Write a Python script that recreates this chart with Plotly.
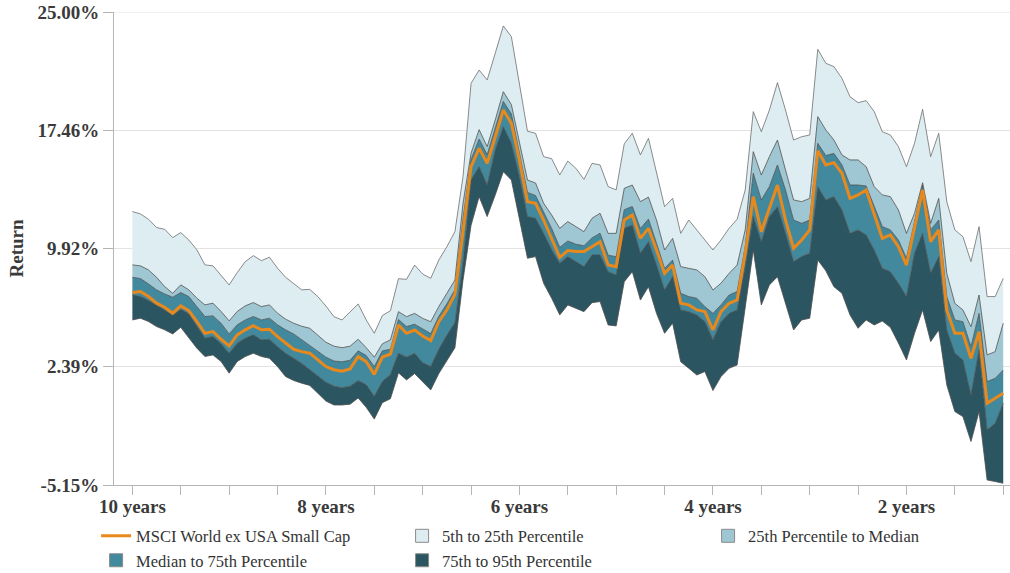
import plotly.graph_objects as go

# Rolling period (years remaining), monthly from 10 years down to 1 year
periods_years = [round(10 - m / 12, 4) for m in range(109)]

pct_5th = [12.28, 12.13, 11.79, 11.26, 11.15, 10.62, 10.94, 10.47, 9.84, 8.88, 8.82, 8.18, 7.60, 8.39, 9.09, 9.47, 9.15, 9.37, 8.67, 8.09, 7.67,
           7.29, 7.32, 6.86, 6.26, 5.58, 5.37, 5.90, 6.39, 5.37, 4.52, 5.65, 5.96, 8.00, 7.96, 8.87, 8.30, 8.02, 9.19, 10.04, 11.00, 14.50,
           20.45, 21.30, 20.67, 22.37, 24.11, 23.43, 20.50, 17.40, 17.27, 15.78, 15.65, 14.61, 15.50, 15.04, 14.33, 15.35, 15.25, 13.87, 13.66, 16.60, 17.27, 15.89, 16.95,
           14.72, 12.59, 13.12, 10.89, 11.74, 11.11, 10.47, 9.83, 10.47, 11.21, 11.79, 13.65, 18.65, 17.37, 18.75, 20.50, 18.75, 16.84, 17.05, 17.16, 22.62, 21.73,
           21.52, 20.77, 19.60, 19.22, 19.35, 18.65, 17.37, 17.16, 16.42, 15.14, 16.63, 18.80, 15.78, 17.27, 12.91, 11.11, 10.68, 9.09, 11.32, 6.86, 6.86, 8.02]

pct_25th = [8.88, 8.82, 8.56, 8.09, 7.50, 7.07, 7.61, 7.29, 6.76, 6.33, 6.44, 5.91, 5.31, 5.91, 6.27, 6.48, 6.22, 6.33, 5.80, 5.42, 5.16,
            4.97, 4.84, 4.41, 3.95, 3.70, 3.60, 3.70, 4.14, 3.60, 3.00, 3.85, 4.10, 5.90, 5.58, 5.79, 5.47, 5.26, 6.22, 7.07, 7.92, 12.80,
            16.00, 17.50, 16.42, 18.12, 19.92, 19.10, 16.70, 14.29, 14.10, 12.81, 12.06, 11.21, 11.64, 11.32, 11.00, 11.85, 12.17, 10.89, 10.89, 13.76, 13.97, 12.91, 13.20,
            11.74, 9.83, 10.57, 8.77, 8.66, 8.56, 8.13, 7.28, 7.71, 8.34, 8.87, 11.11, 16.10, 14.61, 15.78, 16.84, 14.93, 13.02, 12.91, 13.12, 18.33, 17.48,
            16.84, 15.89, 15.57, 15.57, 15.14, 13.87, 13.34, 13.23, 12.38, 10.89, 12.17, 14.12, 11.53, 13.12, 8.34, 6.43, 6.01, 4.94, 6.96, 3.14, 3.35, 5.16]

pct_median = [8.09, 8.01, 7.67, 7.29, 7.03, 6.82, 7.12, 6.86, 6.22, 5.59, 5.63, 5.16, 4.48, 5.06, 5.37, 5.59, 5.37, 5.48, 5.06, 4.74, 4.48,
              4.10, 3.75, 3.35, 3.00, 2.75, 2.70, 2.80, 3.40, 3.10, 2.40, 3.40, 3.50, 5.40, 4.95, 5.10, 4.80, 4.50, 5.60, 6.40, 7.30, 11.80,
              15.60, 16.90, 15.90, 17.60, 19.30, 18.50, 16.10, 13.50, 13.30, 12.30, 11.20, 10.00, 10.40, 10.20, 10.10, 10.60, 10.90, 9.50, 9.40, 12.40, 12.60, 11.20, 11.80,
              10.26, 8.66, 9.19, 7.07, 6.86, 6.75, 6.22, 5.79, 6.33, 6.96, 7.18, 10.04, 14.72, 13.02, 13.87, 15.25, 13.65, 11.74, 11.53, 11.74, 16.63, 15.85,
              15.99, 15.25, 13.97, 13.97, 13.91, 12.59, 11.32, 11.11, 10.47, 9.30, 11.74, 13.97, 11.11, 11.74, 6.86, 5.37, 5.26, 3.67, 5.79, 1.44, 1.65, 2.18]

pct_75th = [6.97, 6.86, 6.61, 6.33, 6.01, 5.69, 6.05, 5.76, 4.95, 4.21, 4.31, 3.85, 3.25, 3.89, 4.21, 4.42, 4.10, 4.14, 3.67, 3.25, 2.93,
            2.60, 2.20, 1.80, 1.40, 1.15, 1.05, 1.15, 1.50, 1.25, 0.50, 1.45, 1.90, 3.25, 3.00, 3.25, 2.65, 2.40, 3.50, 4.40, 5.20, 9.00,
            14.29, 15.14, 13.97, 16.20, 17.69, 16.63, 14.50, 11.96, 11.85, 10.89, 9.83, 8.98, 9.41, 9.09, 8.77, 9.51, 9.51, 8.45, 8.24, 11.21, 11.42, 9.62, 10.36,
            8.87, 7.28, 8.13, 6.01, 5.90, 5.69, 5.26, 4.10, 5.26, 5.79, 6.01, 8.77, 11.96, 10.36, 11.96, 12.59, 10.89, 9.09, 9.41, 9.62, 13.87, 13.02,
            13.23, 12.38, 10.89, 11.11, 10.79, 9.83, 8.66, 8.45, 7.71, 6.86, 9.62, 10.89, 8.34, 9.41, 4.73, 3.25, 2.82, 0.59, 3.46, -1.64, -1.22, 0.06]

pct_95th = [5.37, 5.48, 5.27, 4.95, 4.74, 4.48, 4.90, 4.21, 3.57, 3.04, 3.14, 2.72, 1.98, 2.72, 3.04, 3.25, 3.04, 2.93, 2.40, 1.76, 1.51,
            1.34, 1.20, 0.70, 0.20, -0.05, -0.05, 0.00, 0.40, -0.20, -0.95, 0.10, 0.35, 2.00, 1.55, 1.95, 1.40, 0.91, 1.95, 2.80, 3.60, 7.90,
            11.40, 13.23, 11.96, 13.34, 14.82, 14.29, 11.74, 9.30, 9.41, 7.71, 6.75, 5.69, 6.33, 6.11, 5.90, 6.47, 6.54, 5.05, 4.99, 7.81, 8.45, 6.64, 7.49,
            5.79, 4.52, 5.16, 2.71, 2.29, 1.86, 2.08, 0.87, 1.76, 2.29, 2.50, 6.20, 9.83, 6.33, 7.60, 8.13, 6.43, 4.73, 5.37, 5.48, 9.19, 8.50,
            7.49, 7.07, 5.69, 4.84, 5.37, 5.05, 5.30, 4.90, 3.90, 2.82, 4.52, 6.01, 3.99, 4.73, 1.23, -0.47, -0.79, -2.38, -0.47, -4.83, -4.93, -5.04]

msci_world_ex_usa_small_cap = [7.12, 7.18, 6.86, 6.44, 6.18, 5.80, 6.27, 5.97, 5.27, 4.52, 4.63, 4.14, 3.72, 4.42, 4.74, 5.00, 4.74, 4.78, 4.31, 3.89, 3.50,
                               3.35, 3.25, 2.82, 2.40, 2.20, 2.10, 2.25, 3.03, 2.71, 1.90, 3.00, 3.20, 5.05, 4.52, 4.73, 4.35, 4.05, 5.26, 6.01, 7.00, 11.00,
                               15.14, 16.31, 15.35, 17.05, 18.75, 17.90, 15.57, 12.91, 12.81, 11.74, 10.57, 9.36, 9.79, 9.73, 9.73, 10.04, 10.36, 8.87, 8.77, 11.74, 12.06, 10.57, 11.21,
                               9.83, 8.34, 8.87, 6.43, 6.33, 6.01, 5.90, 4.73, 5.90, 6.43, 6.64, 9.62, 13.23, 11.00, 12.49, 13.97, 11.74, 9.94, 10.47, 11.11, 16.15, 15.25,
                               15.40, 14.72, 13.12, 13.34, 13.65, 12.17, 10.57, 10.79, 10.04, 8.87, 11.32, 13.65, 10.36, 11.11, 6.01, 4.52, 4.52, 2.93, 4.63, 0.06, 0.38, 0.70]

y_tick_vals = [-5.15, 2.39, 9.92, 17.46, 25.00]
y_tick_text = ["-5.15%", "2.39%", "9.92%", "17.46%", "25.00%"]
x_tick_vals = [10 - k * 0.5 for k in range(19)]
x_tick_labels = {10.0: "10 years", 8.0: "8 years", 6.0: "6 years", 4.0: "4 years", 2.0: "2 years"}
x_tick_text = [x_tick_labels.get(v, "") for v in x_tick_vals]

band_names = ["5th to 25th Percentile", "25th Percentile to Median",
              "Median to 75th Percentile", "75th to 95th Percentile"]
band_colors = ["#deedf1", "#9fc7d3", "#43899e", "#2b5661"]
index_color = "#e8891d"
edge = dict(color="#4d4d4d", width=0.8)
serif = "Liberation Serif, Times New Roman, serif"

fig = go.Figure()
# stacked bands, bottom to top
fig.add_trace(go.Scatter(x=periods_years, y=pct_95th, mode="lines", line=edge,
                         showlegend=False, hoverinfo="skip"))
fig.add_trace(go.Scatter(x=periods_years, y=pct_75th, mode="lines", line=edge, fill="tonexty",
                         fillcolor=band_colors[3], showlegend=False, hoverinfo="skip"))
fig.add_trace(go.Scatter(x=periods_years, y=pct_median, mode="lines", line=edge, fill="tonexty",
                         fillcolor=band_colors[2], showlegend=False, hoverinfo="skip"))
fig.add_trace(go.Scatter(x=periods_years, y=pct_25th, mode="lines", line=edge, fill="tonexty",
                         fillcolor=band_colors[1], showlegend=False, hoverinfo="skip"))
fig.add_trace(go.Scatter(x=periods_years, y=pct_5th, mode="lines", line=dict(color="#6e6e6e", width=0.8),
                         fill="tonexty", fillcolor=band_colors[0], showlegend=False, hoverinfo="skip"))
fig.add_trace(go.Scatter(x=periods_years, y=msci_world_ex_usa_small_cap, mode="lines",
                         line=dict(color=index_color, width=3), name="MSCI World ex USA Small Cap"))

# legend swatches
for nm, col in zip(band_names, band_colors):
    fig.add_trace(go.Scatter(x=[None], y=[None], mode="markers", name=nm,
                             marker=dict(symbol="square", size=13, color=col,
                                         line=dict(color="#8a8a8a", width=1))))

# top gridline at 25.00%
fig.add_shape(type="line", xref="paper", yref="y", x0=0, x1=1, y0=25.0, y1=25.0,
              line=dict(color="#e2e2e2", width=1), layer="below")

fig.update_layout(
    width=1010, height=573,
    margin=dict(l=114, r=0, t=12, b=88, autoexpand=False),
    paper_bgcolor="white", plot_bgcolor="white",
    font=dict(family=serif, color="#333333"),
    showlegend=True,
    legend=dict(orientation="h", x=-0.02, xanchor="left", y=-0.071, yanchor="top",
                font=dict(family=serif, size=16.5, color="#333333"),
                entrywidth=261, entrywidthmode="pixels", traceorder="normal",
                itemwidth=30, bgcolor="rgba(0,0,0,0)"),
    xaxis=dict(range=[10.19, 0.93], tickmode="array", tickvals=x_tick_vals, ticktext=x_tick_text,
               ticks="outside", ticklen=9, tickcolor="#b5b5b5", showline=True, linecolor="#b5b5b5",
               showgrid=False, zeroline=False, automargin=False, ticklabelstandoff=-5,
               tickfont=dict(family=serif, size=19, color="#3a3a3a", weight="bold")),
    yaxis=dict(range=[-5.15, 25.0], tickmode="array", tickvals=y_tick_vals, ticktext=y_tick_text,
               ticks="outside", ticklen=10, tickcolor="#b5b5b5", showline=True, linecolor="#b5b5b5",
               showgrid=True, gridcolor="#e2e2e2", gridwidth=1, zeroline=False, automargin=False,
               ticklabeloverflow="allow",
               tickfont=dict(family=serif, size=19, color="#3a3a3a", weight="bold"),
               title=dict(text="Return", standoff=8,
                          font=dict(family=serif, size=19, color="#3a3a3a", weight="bold"))),
)

fig.write_html("out.html", config={"displayModeBar": False},
               post_script="document.body.style.margin='0px';")
